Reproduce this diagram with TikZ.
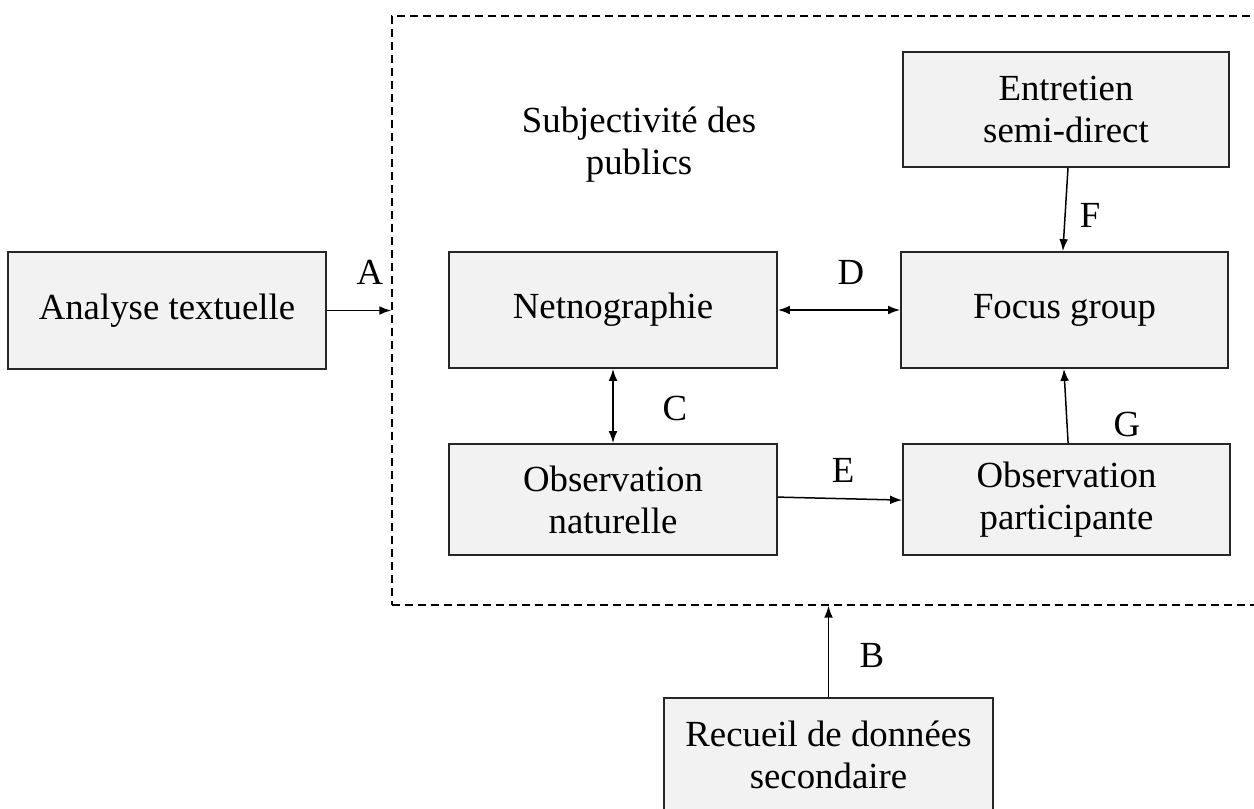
\documentclass[tikz,border=0pt]{standalone}
\usepackage{fontspec}
\setmainfont{Liberation Serif}
\usepackage{tikz}
\usetikzlibrary{arrows.meta}

\begin{document}
\begin{tikzpicture}
[
x=0.5pt, y=-0.5pt,
every node/.style={font=\fontsize{18.4}{21}\selectfont},
box/.style={rectangle, draw=black!85, line width=0.9pt, fill=black!5, align=center, inner sep=0pt, minimum width=164pt, minimum height=57.5pt},
zone/.style={rectangle, draw=black, line width=0.7pt, dash pattern=on 4pt off 2.5pt, inner sep=0pt, minimum width=454pt, minimum height=294.5pt},
lbl/.style={inner sep=0pt},
link/.style={line width=0.75pt, -{Latex[length=6pt,width=4.4pt]}},
both/.style={line width=0.75pt, {Latex[length=6pt,width=4.4pt]}-{Latex[length=6pt,width=4.4pt]}}
]
\useasboundingbox (0,0) rectangle (1254,809);
\clip (0,0) rectangle (1254,809);

%Nodes
\node[zone]                                  (zone)      at (846,310.5)  {};
\node[box, minimum width=159pt, minimum height=58.5pt] (analyse) at (167,310.5) {Analyse textuelle};
\node[box, minimum height=58pt]              (netno)     at (613,310)    {Netnographie};
\node[box, minimum width=163.5pt, minimum height=58pt] (focus) at (1064.5,310) {Focus group};
\node[box, minimum width=163pt]              (entretien) at (1066,109.5) {Entretien\\semi-direct};
\node[box, minimum height=55.5pt]            (obsnat)    at (613,499.5)  {Observation\\naturelle};
\node[box, minimum width=163.5pt, minimum height=55.5pt] (obspart) at (1066.5,499.5) {Observation\\participante};
\node[box, minimum width=164.5pt, minimum height=57pt] (recueil) at (828.5,755) {Recueil de données\\secondaire};
\node[align=center, inner sep=0pt]           (subj)      at (639,145)    {Subjectivité des\\publics};

%Labels
\node[lbl] (la) at (370,272) {A};
\node[lbl] (lb) at (872,655) {B};
\node[lbl] (lc) at (675,408) {C};
\node[lbl] (ld) at (851,272) {D};
\node[lbl] (le) at (843,470) {E};
\node[lbl] (lf) at (1090,215) {F};
\node[lbl] (lg) at (1127,424) {G};

%Lines
\draw[link] (analyse.east) -- (analyse.east -| zone.west);
\draw[link] (recueil.north) -- (recueil.north |- zone.south);
\draw[both] (netno.east) -- (focus.west);
\draw[both] (netno.south) -- (obsnat.north);
\draw[link] ([yshift=1.2pt]obsnat.east) -- ([yshift=-0.3pt]obspart.west);
\draw[link] ([xshift=1pt]entretien.south) -- ([xshift=-0.8pt]focus.north);
\draw[link] ([xshift=0.8pt]obspart.north) -- ([xshift=-0.3pt]focus.south);
\end{tikzpicture}
\end{document}
